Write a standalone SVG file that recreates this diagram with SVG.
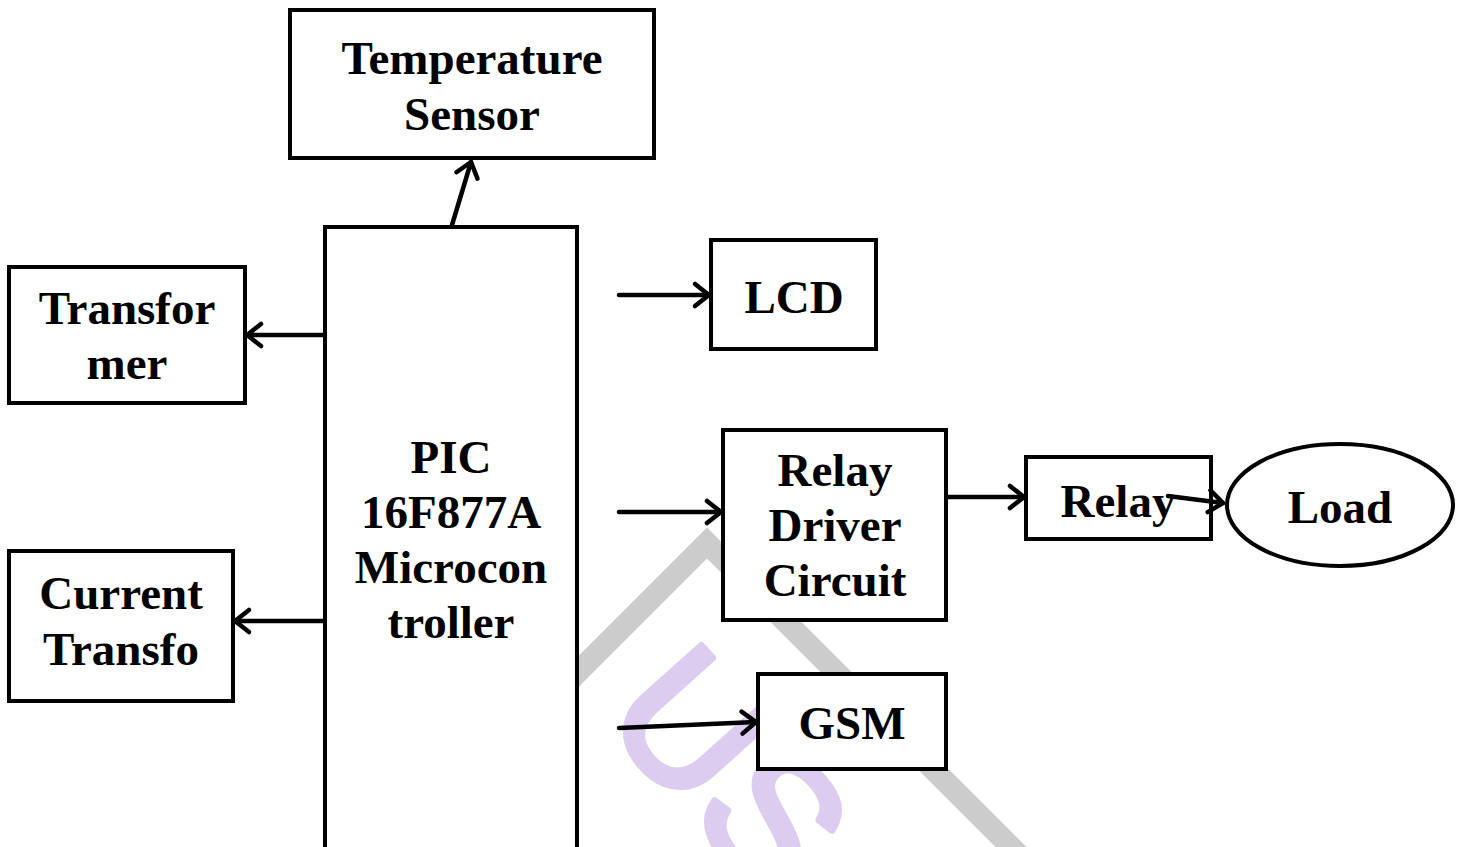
<svg xmlns="http://www.w3.org/2000/svg" width="1464" height="847" viewBox="0 0 1464 847">
<style>
.box{fill:#fff;stroke:#000;stroke-width:4}
.lbl{font-family:"Liberation Serif","Times New Roman",serif;font-weight:bold;font-size:47px;fill:#000;text-anchor:middle}
.conn{stroke:#000;stroke-width:4.5;fill:none;stroke-linecap:round}
.wm{font-family:"Liberation Sans",Arial,sans-serif;font-size:180px;fill:#dccdf0;stroke:#dccdf0;stroke-width:7;stroke-linejoin:round}
</style>
<defs>
<marker id="arr" markerUnits="userSpaceOnUse" markerWidth="30" markerHeight="30" viewBox="-20 -15 30 30" refX="0" refY="0" orient="auto">
<path d="M -14 -11 L 0 0 L -14 11" fill="none" stroke="#000" stroke-width="4.5" stroke-linecap="round" stroke-linejoin="round"/>
</marker>
</defs>
<rect width="1464" height="847" fill="#fff"/>
<g id="watermark">
<polyline points="560,690 707,543 1040,876" fill="none" stroke="#cccccc" stroke-width="22"/>
<text class="wm" x="600" y="718" transform="rotate(48 600 718)">US</text>
</g>
<g id="pic">
<rect class="box" x="325" y="227" width="252" height="640"/>
<text class="lbl" x="451" y="473">PIC</text>
<text class="lbl" x="451" y="528">16F877A</text>
<text class="lbl" x="451" y="583">Microcon</text>
<text class="lbl" x="451" y="638">troller</text>
</g>
<g id="temp-sensor">
<rect class="box" x="290" y="10" width="364" height="148"/>
<text class="lbl" x="472" y="74">Temperature</text>
<text class="lbl" x="472" y="130">Sensor</text>
</g>
<g id="transformer">
<rect class="box" x="9" y="267" width="236" height="136"/>
<text class="lbl" x="127" y="324">Transfor</text>
<text class="lbl" x="127" y="379">mer</text>
</g>
<g id="current-transformer">
<rect class="box" x="9" y="551" width="224" height="150"/>
<text class="lbl" x="121" y="609">Current</text>
<text class="lbl" x="121" y="665">Transfo</text>
</g>
<g id="lcd">
<rect class="box" x="711" y="240" width="165" height="109"/>
<text class="lbl" x="794" y="313">LCD</text>
</g>
<g id="relay-driver">
<rect class="box" x="723" y="430" width="223" height="190"/>
<text class="lbl" x="835" y="486">Relay</text>
<text class="lbl" x="835" y="541">Driver</text>
<text class="lbl" x="835" y="596">Circuit</text>
</g>
<g id="gsm">
<rect class="box" x="758" y="674" width="188" height="95"/>
<text class="lbl" x="852" y="739">GSM</text>
</g>
<g id="relay">
<rect class="box" x="1026" y="457" width="185" height="82"/>
<text class="lbl" x="1118" y="517">Relay</text>
</g>
<g id="load">
<ellipse class="box" cx="1340" cy="505" rx="113" ry="61"/>
<text class="lbl" x="1340" y="523">Load</text>
</g>
<g id="connectors">
<line class="conn" x1="452" y1="225" x2="471" y2="162" marker-end="url(#arr)"/>
<line class="conn" x1="323" y1="335" x2="247" y2="335" marker-end="url(#arr)"/>
<line class="conn" x1="323" y1="621" x2="235" y2="621" marker-end="url(#arr)"/>
<line class="conn" x1="619" y1="295" x2="709" y2="295" marker-end="url(#arr)"/>
<line class="conn" x1="619" y1="512" x2="721" y2="512" marker-end="url(#arr)"/>
<line class="conn" x1="948" y1="497" x2="1024" y2="497" marker-end="url(#arr)"/>
<line class="conn" x1="1168" y1="496" x2="1223" y2="503" marker-end="url(#arr)"/>
<line class="conn" x1="619" y1="728" x2="756" y2="722" marker-end="url(#arr)"/>
</g>
</svg>
